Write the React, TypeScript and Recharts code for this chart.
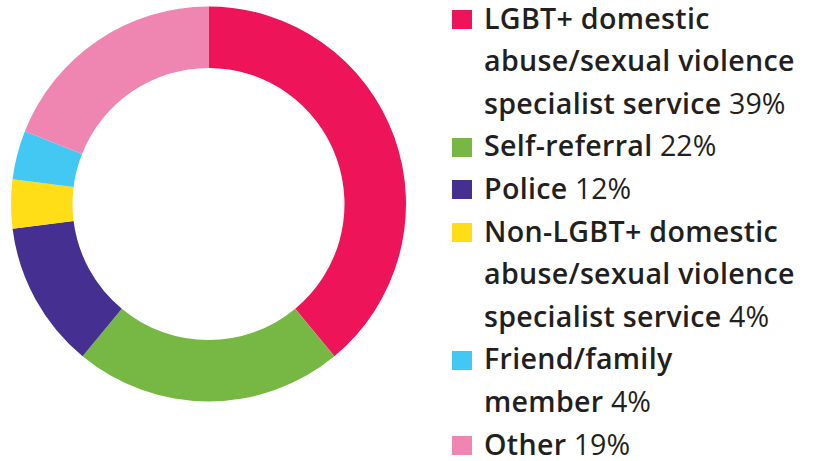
import React from "react";
import { Cell, Legend, Pie, PieChart } from "recharts";

const categories = [
  "LGBT+ domestic abuse/sexual violence specialist service",
  "Self-referral",
  "Police",
  "Non-LGBT+ domestic abuse/sexual violence specialist service",
  "Friend/family member",
  "Other",
];
const values = [39, 22, 12, 4, 4, 19];
const colors = ["#ED1459", "#76B843", "#453092", "#FFDD17", "#43C8F3", "#EF86B1"];
// how each legend label breaks across lines
const labelLines = [
  ["LGBT+ domestic", "abuse/sexual violence", "specialist service"],
  ["Self-referral"],
  ["Police"],
  ["Non-LGBT+ domestic", "abuse/sexual violence", "specialist service"],
  ["Friend/family", "member"],
  ["Other"],
];

const data = categories.map((name, i) => ({ name, value: values[i] }));

const LINE_H = 42.6;
const FONT = "'Open Sans', sans-serif";

function LegendList() {
  return (
    <div style={{ fontFamily: FONT, fontSize: 28.6, color: "#231F20", lineHeight: `${LINE_H}px` }}>
      {categories.map((name, i) => {
        const lines = labelLines[i];
        return (
          <div key={name}>
            {lines.map((line, j) => (
              <div key={j} style={{ position: "relative", paddingLeft: 32, height: LINE_H, whiteSpace: "nowrap" }}>
                {j === 0 && (
                  <span
                    style={{
                      position: "absolute",
                      left: 0,
                      top: 13.4,
                      width: 20,
                      height: 19,
                      background: colors[i],
                    }}
                  />
                )}
                <span style={{ fontWeight: 600, letterSpacing: 0.3 }}>{line}</span>
                {j === lines.length - 1 && <span style={{ fontWeight: 400 }}> {values[i]}%</span>}
              </div>
            ))}
          </div>
        );
      })}
    </div>
  );
}

export default function App() {
  return (
    <div style={{ position: "absolute", left: 0, top: 0, width: 814, height: 461, background: "#fff" }}>
      <PieChart width={814} height={461} margin={{ top: 0, right: 0, bottom: 0, left: 0 }}>
        <Pie
          data={data}
          dataKey="value"
          nameKey="name"
          cx={208.5}
          cy={204}
          innerRadius={136}
          outerRadius={197.5}
          startAngle={90}
          endAngle={-270}
          stroke="none"
          isAnimationActive={false}
        >
          {data.map((d, i) => (
            <Cell key={d.name} fill={colors[i]} />
          ))}
        </Pie>
        <Legend
          layout="vertical"
          align="right"
          verticalAlign="top"
          content={() => <LegendList />}
          wrapperStyle={{ left: 452, top: -3.4, width: 362 }}
        />
      </PieChart>
    </div>
  );
}
